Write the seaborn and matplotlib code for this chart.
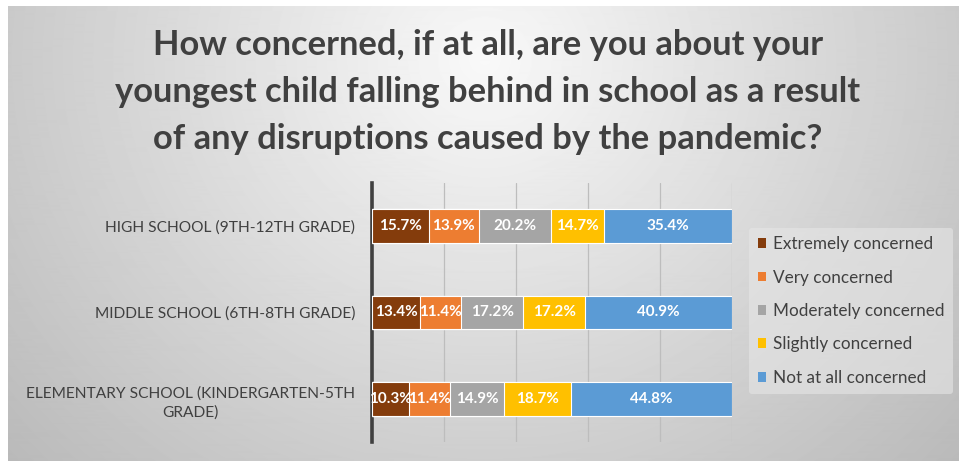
import numpy as np
import pandas as pd
import matplotlib
matplotlib.use("Agg")
import matplotlib.pyplot as plt
import seaborn as sns
from matplotlib.patches import Patch

# data
schools = ["HIGH SCHOOL (9TH-12TH GRADE)",
           "MIDDLE SCHOOL (6TH-8TH GRADE)",
           "ELEMENTARY SCHOOL (KINDERGARTEN-5TH\nGRADE)"]
levels = ["Extremely concerned", "Very concerned", "Moderately concerned",
          "Slightly concerned", "Not at all concerned"]
extremely = [15.7, 13.4, 10.3]
very = [13.9, 11.4, 11.4]
moderately = [20.2, 17.2, 14.9]
slightly = [14.7, 17.2, 18.7]
not_at_all = [35.4, 40.9, 44.8]
colors = ["#843c0c", "#ed7d31", "#a5a5a5", "#ffc000", "#5b9bd5"]
title_lines = ["How concerned, if at all, are you about your",
               "youngest child falling behind in school as a result",
               "of any disruptions caused by the pandemic?"]

df = pd.DataFrame({"school": schools, levels[0]: extremely, levels[1]: very,
                   levels[2]: moderately, levels[3]: slightly, levels[4]: not_at_all})
cum = df[levels].cumsum(axis=1)

sns.set_theme(style="white")
plt.rcParams["font.family"] = ["Lato", "DejaVu Sans"]

W, H = 959, 461
fig = plt.figure(figsize=(W / 100, H / 100), dpi=100)
fig.patch.set_facecolor("white")

# radial gradient background
bg = fig.add_axes([8 / W, 0, (W - 8) / W, 455 / H], zorder=-5)
yy, xx = np.mgrid[6:461, 8:959]
r = np.sqrt(((xx - 485) / 520.0) ** 2 + ((yy - 60) / 480.0) ** 2)
v = np.clip(0.975 - 0.2 * r, 0, 1)
bg.imshow(v, cmap="gray", vmin=0, vmax=1, aspect="auto", interpolation="bilinear")
bg.axis("off")

ax = fig.add_axes([372 / W, 19 / H, 360 / W, 259 / H])
ax.set_facecolor("none")

# stacked bars: draw cumulative totals back to front
for lvl, col in reversed(list(zip(levels, colors))):
    sns.barplot(data=cum.assign(school=schools), x=lvl, y="school", order=schools,
                color=col, width=0.39, edgecolor="white", linewidth=0.8,
                saturation=1, ax=ax, zorder=3)

for i in range(len(schools)):
    for lvl in levels:
        val = df.loc[i, lvl]
        mid = cum.loc[i, lvl] - val / 2
        ax.text(mid, i, f"{val:.1f}%", ha="center", va="center", color="white",
                fontsize=11, fontweight="bold", zorder=4)

ax.set_xlim(0, 100)
ax.set_ylim(2.5, -0.5)
ax.set_xticks([0, 20, 40, 60, 80, 100])
ax.set_xticklabels([])
ax.grid(axis="x", color="#bdbdbd", linewidth=0.9, zorder=0)
ax.set_xlabel("")
ax.set_ylabel("")
for s in ["top", "right", "bottom"]:
    ax.spines[s].set_visible(False)
ax.spines["left"].set_color("#404040")
ax.spines["left"].set_linewidth(2.6)
ax.tick_params(axis="y", length=0, pad=12, labelsize=11.2, labelcolor="#404040")
ax.tick_params(axis="x", length=0)
for t in ax.get_yticklabels():
    t.set_multialignment("center")
    t.set_linespacing(1.45)

handles = [Patch(facecolor=c, edgecolor="none") for c in colors]
leg = fig.legend(handles, levels, loc="center left", bbox_to_anchor=(749 / W, 1 - 311 / H),
                 frameon=True, fontsize=12.3, handlelength=0.5, handleheight=0.5,
                 handletextpad=0.4, labelspacing=1.02, borderpad=0.5, borderaxespad=0)
leg.get_frame().set_facecolor("#e6e6e6")
leg.get_frame().set_edgecolor("none")
leg.get_frame().set_alpha(0.6)
for t in leg.get_texts():
    t.set_color("#404040")

for k, line in enumerate(title_lines):
    fig.text(488 / W, 1 - (45 + 47 * k) / H, line, ha="center", va="center",
             fontsize=24.8, fontweight="bold", color="#404040")

fig.savefig("out.png", dpi=100)
